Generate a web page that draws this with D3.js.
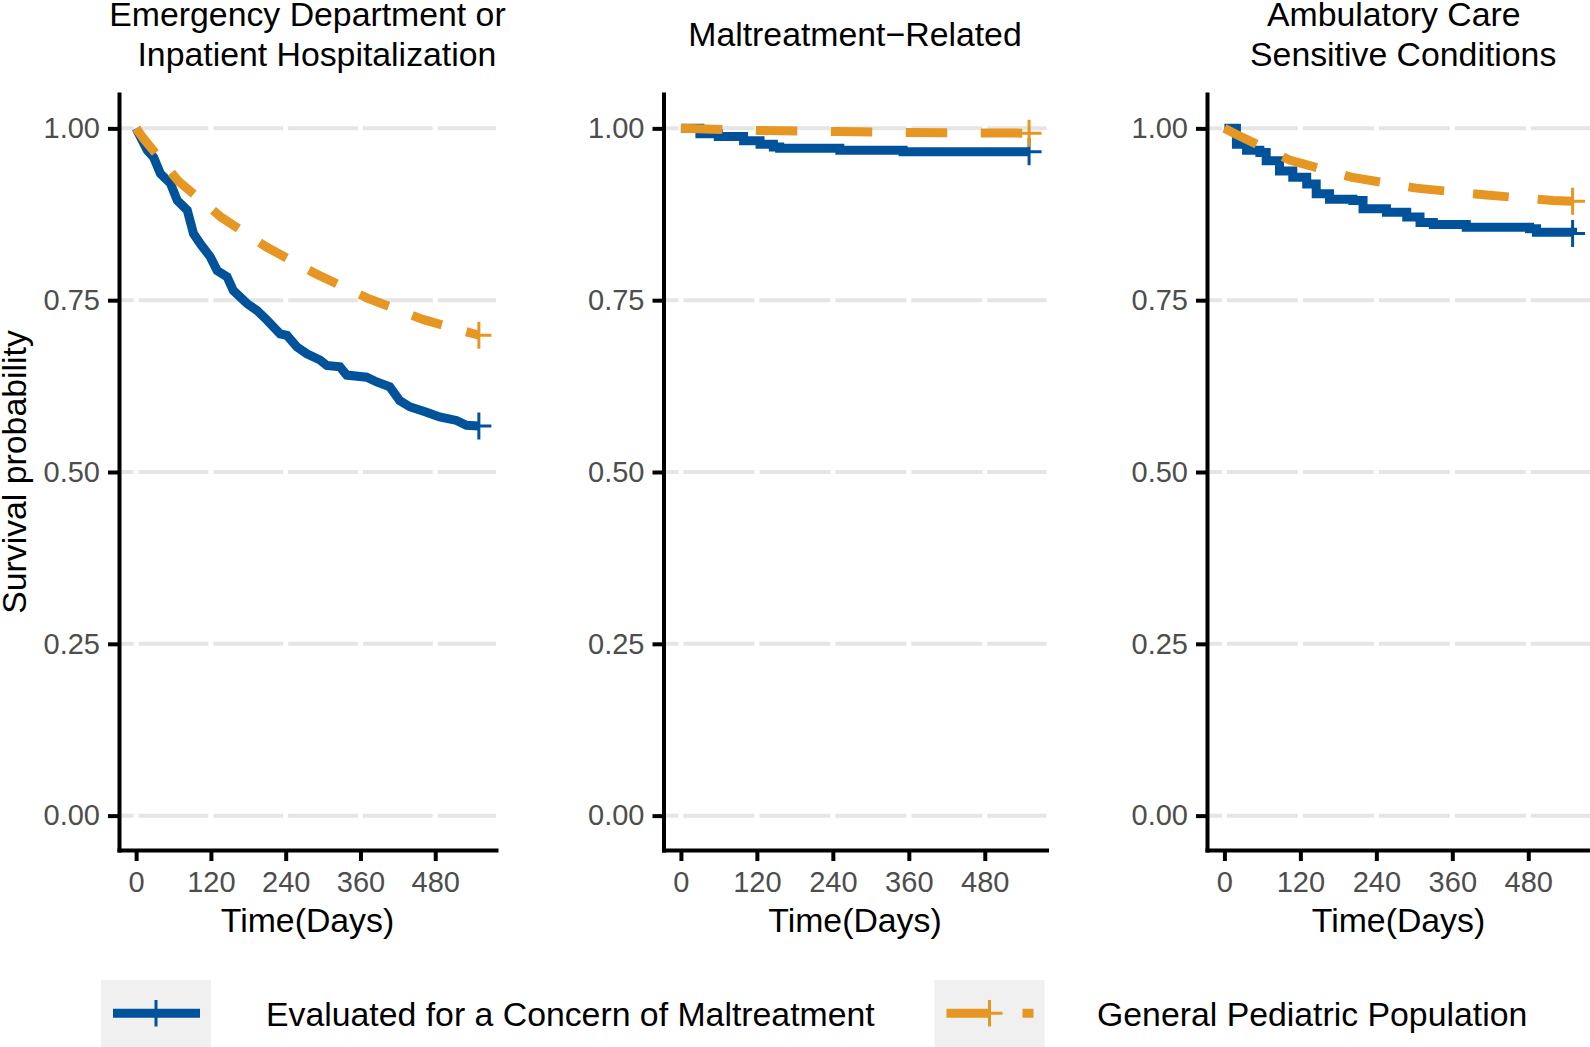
<!DOCTYPE html>
<html>
<head>
<meta charset="utf-8">
<script src="https://cdn.jsdelivr.net/npm/d3@7"></script>
<style>
  body { margin: 0; background: #fff; }
  svg { display: block; font-family: "Liberation Sans", Arial, Helvetica, sans-serif; }
  .ptitle { white-space: pre; }
</style>
</head>
<body>
<div id="chart"></div>
<script>
//## Data

// spaces kept as in the original two-line titles
const panelTitles = [
  ["Emergency Department or", "  Inpatient Hospitalization"],
  ["Maltreatment\u2212Related"],
  ["Ambulatory Care ", " Sensitive Conditions"]
];
const groupNames = ["Evaluated for a Concern of Maltreatment", "General Pediatric Population"];
const groupColors = ["#00539B", "#E69623"];
const xTicks = [0, 120, 240, 360, 480];
const yTicks = [0, 0.25, 0.5, 0.75, 1];
const xLabel = "Time(Days)";
const yLabel = "Survival probability";
const maxDay = 550;

// ED visit or inpatient hospitalization
const edMalDays = [0, 18, 28, 39, 55, 66, 82, 92, 103, 119, 130, 146, 156, 178, 194, 210, 231, 242, 258, 274, 295, 306, 327, 338, 370, 386, 407, 423, 439, 466, 487, 514, 530, 550];
const edMalSurv = [1, 0.968, 0.958, 0.934, 0.92, 0.895, 0.881, 0.847, 0.832, 0.813, 0.793, 0.784, 0.764, 0.745, 0.735, 0.721, 0.701, 0.699, 0.682, 0.672, 0.663, 0.655, 0.653, 0.641, 0.638, 0.631, 0.624, 0.604, 0.595, 0.587, 0.58, 0.575, 0.568, 0.567];
const edGenDays = [0, 12, 68, 136, 210, 287, 371, 460, 550];
const edGenSurv = [1, 0.985, 0.923, 0.871, 0.827, 0.789, 0.753, 0.722, 0.699];

// maltreatment-related
const mrMalDays = [0, 30, 59, 99, 125, 146, 156, 251, 351, 550];
const mrMalSurv = [1, 0.992, 0.988, 0.982, 0.977, 0.973, 0.971, 0.968, 0.966, 0.966];
const mrGenDays = [0, 121, 246, 361, 550];
const mrGenSurv = [1, 0.997, 0.9955, 0.994, 0.993];

// ambulatory care sensitive conditions
const acMalDays = [0, 19, 35, 56, 66, 87, 108, 130, 145, 166, 203, 219, 256, 288, 309, 330, 382, 482, 493, 550];
const acMalSurv = [1, 0.977, 0.968, 0.965, 0.953, 0.938, 0.929, 0.919, 0.905, 0.897, 0.895, 0.883, 0.878, 0.871, 0.863, 0.86, 0.856, 0.854, 0.849, 0.847];
const acGenDays = [0, 19, 103, 200, 303, 414, 519, 550];
const acGenSurv = [1, 0.991, 0.954, 0.929, 0.913, 0.903, 0.895, 0.894];

const panels = [
  { title: panelTitles[0], series: [d3.zip(edMalDays, edMalSurv), d3.zip(edGenDays, edGenSurv)] },
  { title: panelTitles[1], series: [d3.zip(mrMalDays, mrMalSurv), d3.zip(mrGenDays, mrGenSurv)] },
  { title: panelTitles[2], series: [d3.zip(acMalDays, acMalSurv), d3.zip(acGenDays, acGenSurv)] }
];

//## Layout

const width = 1590, height = 1047;
const panelLeft = [119, 663.5, 1207];
const panelRight = [496, 1046.5, 1590];
// steep first panel reads as a smooth band, the flatter ones show their steps
const stepped = [false, true, true];
const plotTop = 94, plotBottom = 850;
const titleSize = 33.8, tickSize = 29;
const dash = [42, 34];

const svg = d3.select("#chart").append("svg")
  .attr("width", width)
  .attr("height", height);

svg.append("rect").attr("width", width).attr("height", height).attr("fill", "#fff");

const y = d3.scaleLinear().domain([-0.05, 1.05]).range([plotBottom, plotTop]);

panels.forEach((p, i) => {
  const left = panelLeft[i], right = panelRight[i];
  const x = d3.scaleLinear().domain([-0.05 * maxDay, 1.05 * maxDay]).range([left, right]);
  const g = svg.append("g");

  // grid: grey horizontal, white vertical on top
  g.selectAll(".hgrid").data(yTicks).join("line")
    .attr("x1", left + 2).attr("x2", right)
    .attr("y1", d => y(d)).attr("y2", d => y(d))
    .attr("stroke", "#E5E5E5").attr("stroke-width", 4);
  g.selectAll(".vgrid").data(xTicks).join("line")
    .attr("x1", d => x(d)).attr("x2", d => x(d))
    .attr("y1", plotTop).attr("y2", plotBottom - 2)
    .attr("stroke", "#fff").attr("stroke-width", 5);

  // curves
  p.series.forEach((pts, k) => {
    const line = d3.line()
      .x(d => x(d[0])).y(d => y(d[1]))
      .curve(k === 0 && stepped[i] ? d3.curveStepAfter : d3.curveLinear);
    const path = g.append("path")
      .attr("d", line(pts))
      .attr("fill", "none")
      .attr("stroke", groupColors[k])
      .attr("stroke-width", 9);
    if (k === 1) {
      // KM steps: dash spacing follows the staircase length, not the straight one
      const euclid = path.node().getTotalLength();
      const manhattan = d3.sum(d3.pairs(pts), ([a, b]) =>
        Math.abs(x(b[0]) - x(a[0])) + Math.abs(y(b[1]) - y(a[1])));
      const s = euclid / manhattan;
      path.attr("stroke-dasharray", dash.map(v => v * s).join(","));
    }
    const last = pts[pts.length - 1];
    const cx = x(last[0]), cy = y(last[1]);
    g.append("path")
      .attr("d", `M${cx},${cy - 13.5}V${cy + 13.5}M${cx - 12.5},${cy}H${cx + 12.5}`)
      .attr("stroke", groupColors[k])
      .attr("stroke-width", 3)
      .attr("fill", "none");
  });

  // axes
  const yAxis = d3.axisLeft(y).tickValues(yTicks).tickFormat(d3.format(".2f"))
    .tickSize(11).tickSizeOuter(0).tickPadding(8);
  const xAxis = d3.axisBottom(x).tickValues(xTicks).tickFormat(d3.format("d"))
    .tickSize(11).tickSizeOuter(0).tickPadding(10);

  const ya = g.append("g").attr("transform", `translate(${left},0)`).call(yAxis);
  const xa = g.append("g").attr("transform", `translate(0,${plotBottom})`).call(xAxis);

  [ya, xa].forEach(a => {
    a.attr("font-family", null).attr("font-size", null);
    a.select(".domain").attr("stroke", "#000").attr("stroke-width", 4).attr("stroke-linecap", "square");
    a.selectAll(".tick line").attr("stroke", "#000").attr("stroke-width", 4);
    a.selectAll(".tick text").attr("fill", "#4D4D4D").style("font-size", tickSize + "px");
  });

  // axis title
  g.append("text")
    .attr("x", (left + right) / 2).attr("y", 931.5)
    .attr("text-anchor", "middle")
    .style("font-size", titleSize + "px")
    .text(xLabel);

  // panel title, block centred on one line
  const n = p.title.length;
  g.selectAll(".ptitle").data(p.title).join("text")
    .attr("class", "ptitle")
    .attr("x", (left + right) / 2)
    .attr("y", (d, j) => 34.4 + (j - (n - 1) / 2) * 39.5 + 11.8)
    .attr("text-anchor", "middle")
    .style("font-size", titleSize + "px")
    .text(d => d);
});

svg.append("text")
  .attr("transform", `translate(26,${(plotTop + plotBottom) / 2}) rotate(-90)`)
  .attr("text-anchor", "middle")
  .style("font-size", titleSize + "px")
  .text(yLabel);

//## Legend

const keyX = [101, 934.5];
const keyW = 110, keyY = 980, keyMid = 1013.3;

const items = svg.append("g").selectAll("g").data(groupNames).join("g")
  .attr("transform", (d, i) => `translate(${keyX[i]},0)`);

items.append("rect")
  .attr("y", keyY).attr("width", keyW).attr("height", height - keyY)
  .attr("fill", "#F0F0F0");

items.append("line")
  .attr("x1", 12).attr("x2", 99)
  .attr("y1", keyMid).attr("y2", keyMid)
  .attr("stroke", (d, i) => groupColors[i])
  .attr("stroke-width", 9)
  .attr("stroke-dasharray", (d, i) => i === 1 ? dash.join(",") : null);

items.append("path")
  .attr("d", `M${keyW / 2},${keyMid - 13.3}V${keyMid + 13.3}M${keyW / 2 - 13},${keyMid}H${keyW / 2 + 13}`)
  .attr("stroke", (d, i) => groupColors[i])
  .attr("stroke-width", 3)
  .attr("fill", "none");

items.append("text")
  .attr("x", (d, i) => i === 0 ? 165 : 162.5)
  .attr("y", 1025.5)
  .style("font-size", titleSize + "px")
  .text(d => d);
</script>
</body>
</html>
